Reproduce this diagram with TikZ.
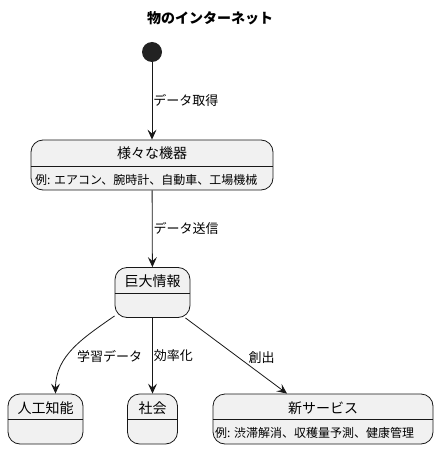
\documentclass[tikz,border=0pt]{standalone}
\usepackage{fontspec}
\setmainfont{Noto Sans CJK JP}
\usepackage{tikz}
\usetikzlibrary{arrows.meta, positioning}
\definecolor{statebg}{HTML}{F1F1F1}
\definecolor{lineclr}{HTML}{181818}
\definecolor{startclr}{HTML}{222222}

\begin{document}
\begin{tikzpicture}[x=1pt, y=1pt,
    box/.style={rectangle, rounded corners=12pt, draw=lineclr, fill=statebg, line width=0.8pt, inner sep=0pt},
    head/.style={font=\fontsize{14}{16}\selectfont, inner sep=0pt},
    desc/.style={font=\fontsize{12}{14}\selectfont, inner sep=0pt, anchor=west},
    lbl/.style={font=\fontsize{13}{15}\selectfont, inner sep=1pt},
    sep/.style={draw=lineclr, line width=0.8pt},
    arrow/.style={-{Stealth[length=10pt, width=9pt, inset=4pt]}, draw=lineclr, line width=0.8pt}
]
\useasboundingbox (0,0) rectangle (437,-449);

\node[font=\bfseries\fontsize{14}{16}\selectfont] (title) at (210,-18) {物のインターネット};

\node[circle, fill=startclr, minimum size=20pt, inner sep=0pt] (start) at (152,-52) {};

% states
\node[box, minimum width=242pt, minimum height=50pt] (devices) at (152,-165) {};
\node[head] (devicesT) at (152,-153) {様々な機器};
\draw[sep] (devices.west |- 0,-166) -- (devices.east |- 0,-166);
\node[desc] (devicesD) at (35,-180) {例: エアコン、腕時計、自動車、工場機械};

\node[box, minimum width=75pt, minimum height=50pt] (bigdata) at (152.5,-292.5) {};
\node[head] (bigdataT) at (152.5,-281) {巨大情報};
\draw[sep] (bigdata.west |- 0,-293) -- (bigdata.east |- 0,-293);

\node[box, minimum width=75pt, minimum height=50pt] (ai) at (45.5,-419) {};
\node[head] (aiT) at (45.5,-408) {人工知能};
\draw[sep] (ai.west |- 0,-419.5) -- (ai.east |- 0,-419.5);

\node[box, minimum width=50pt, minimum height=50pt] (society) at (152.5,-419) {};
\node[head] (societyT) at (152.5,-408) {社会};
\draw[sep] (society.west |- 0,-419.5) -- (society.east |- 0,-419.5);

\node[box, minimum width=220pt, minimum height=50pt] (service) at (323,-419) {};
\node[head] (serviceT) at (323,-408) {新サービス};
\draw[sep] (service.west |- 0,-419.5) -- (service.east |- 0,-419.5);
\node[desc] (serviceD) at (215,-433) {例: 渋滞解消、収穫量予測、健康管理};

% transitions
\draw[arrow] (start) -- node[lbl, right] {データ取得} (devices);
\draw[arrow] (devices) -- node[lbl, right] {データ送信} (bigdata);
\draw[arrow] ([yshift=2pt]bigdata.south west) to[out=215, in=90]
    node[lbl, pos=0.6, anchor=west, xshift=8.5pt] {学習データ} ([xshift=10pt]ai.north);
\draw[arrow] (bigdata) -- node[lbl, right] {効率化} (society);
\draw[arrow] ([xshift=-5pt]bigdata.south east) --
    node[lbl, pos=0.52, anchor=west, xshift=9pt] {創出} ([xshift=-36pt]service.north);

\end{tikzpicture}
\end{document}
